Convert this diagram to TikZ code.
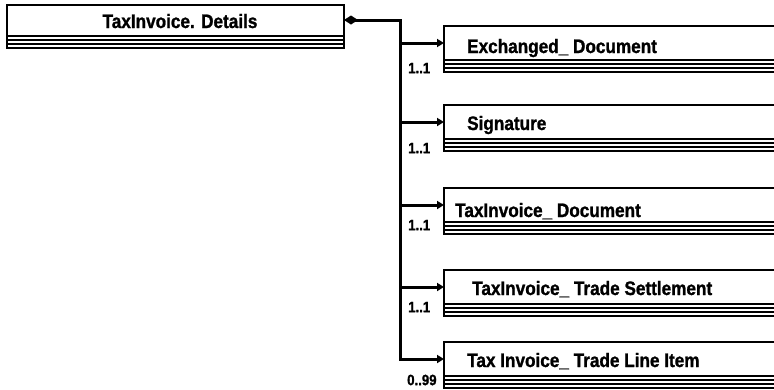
\documentclass[tikz,border=0pt]{standalone}
\usepackage{fontspec}
\setmainfont{Liberation Sans}
\newfontfamily\hdrfont{Liberation Sans}[FakeStretch=0.88,FakeBold=1.2]
\usetikzlibrary{arrows.meta}
\begin{document}
\begin{tikzpicture}[x=1pt,y=-1pt,
  box/.style={draw, line width=1.5pt, rectangle, inner sep=0pt, outer sep=0pt, anchor=north west},
  stripe/.style={line width=1.4pt},
  sepline/.style={line width=1.8pt},
  title/.style={font=\hdrfont\fontsize{19.5}{22}\selectfont\bfseries, anchor=base west, inner sep=0pt},
  mult/.style={font=\hdrfont\fontsize{15}{17}\selectfont\bfseries, anchor=west, inner sep=0pt},
  conn/.style={line width=3pt},
  tip/.style={-{Triangle[length=7pt,width=8pt]}},
  ]
\useasboundingbox (0,0) rectangle (774,389);
\clip (0,0) rectangle (774,389);
% parent box
\node[box, minimum width=337pt, minimum height=43pt] (p) at (7,5) {};
% child boxes
\foreach \n/\t in {c1/26,c2/105,c3/188,c4/270,c5/342}
  \node[box, minimum width=345pt, minimum height=46pt] (\n) at (444,\t) {};
% stripes
\foreach \n in {p,c1,c2,c3,c4,c5}{
  \draw[sepline] ([yshift=12pt]\n.south west) -- ([yshift=12pt]\n.south east);
  \draw[stripe] ([yshift=8pt]\n.south west) -- ([yshift=8pt]\n.south east);
  \draw[stripe] ([yshift=4pt]\n.south west) -- ([yshift=4pt]\n.south east);
}
% texts
\node[title, anchor=base] (pt) at (180,28) {TaxInvoice. Details};
\node[title] (t1) at (467,53) {Exchanged\_ Document};
\node[title] (t2) at (467,130) {Signature};
\node[title] (t3) at (455,217) {TaxInvoice\_ Document};
\node[title] (t4) at (472,295) {TaxInvoice\_ Trade Settlement};
\node[title] (t5) at (467,367) {Tax Invoice\_ Trade Line Item};
% connectors
\coordinate (d) at ([yshift=-15pt]p.north east);
\coordinate (j) at ([xshift=56pt]d);
\foreach \n in {c1,c2,c3,c4,c5}
  \coordinate (a\n) at ([yshift=-17pt]\n.north west);
\draw[conn, {Diamond[length=14pt,width=9pt]}-{Triangle[length=7pt,width=8pt]}]
  (d) -- (j) -- (j |- ac5) -- (ac5);
\foreach \n in {c1,c2,c3,c4}
  \draw[conn, tip] (j |- a\n) -- (a\n);
% multiplicities
\node[mult] (m1) at (408,68) {1..1};
\node[mult] (m2) at (408,148) {1..1};
\node[mult] (m3) at (408,225) {1..1};
\node[mult] (m4) at (408,307) {1..1};
\node[mult] (m5) at (407,380) {0..99};
\end{tikzpicture}
\end{document}
